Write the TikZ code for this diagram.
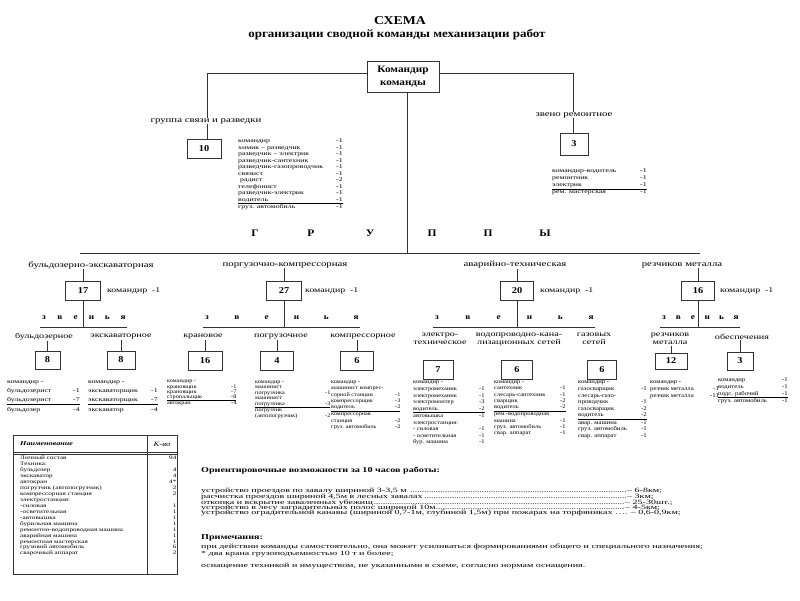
\documentclass[tikz,border=0pt]{standalone}
\usepackage{fontspec}
\setmainfont{Liberation Serif}[FakeStretch=1.15]
\newfontfamily\wfont{Liberation Serif}[FakeStretch=1.35]
\newfontfamily\xfont{Liberation Serif}[FakeStretch=1.55]
\usepackage{array}
\newcommand{\fs}[2]{\fontsize{#1}{#2}\selectfont}
\newcommand{\lstab}[2]{\begin{tabular}{@{}p{#1}@{}r@{}}#2\end{tabular}}
\newcommand{\dfill}{\leaders\hbox to 2.3pt{\hss.\hss}\hfill}
\setlength{\arrayrulewidth}{0.6pt}
\tikzset{
  ln/.style={draw=black!80, line width=0.8pt},
  bx/.style={draw=black!80, line width=1pt, inner sep=0pt, font=\bfseries\fs{9}{9}},
  glab/.style={inner sep=0.5pt, font=\wfont\fs{8}{8}},
  slab/.style={inner sep=0.5pt, font=\wfont\fs{7.5}{8}, align=center},
  lst/.style={inner sep=0pt, anchor=north west},
  kom/.style={inner sep=0pt, anchor=west, font=\wfont\fs{7.3}{7.3}},
  gr/.style={inner sep=0pt, font=\bfseries\fs{10}{10}},
  zl/.style={inner sep=0pt, font=\bfseries\fs{8}{8}},
  txt/.style={inner sep=0pt, anchor=west, font=\xfont\fs{6.45}{6.45}},
}
\begin{document}
\begin{tikzpicture}[x=1pt,y=-1pt]
\useasboundingbox (0,0) rectangle (800,600);
\fill[white] (0,0) rectangle (800,600);
% title
\node[inner sep=0pt, font=\bfseries\fs{12}{12}] (t1) at (400,21) {СХЕМА};
\node[inner sep=0pt, font=\bfseries\fs{11.3}{11.3}] (t2) at (397,35) {организации сводной команды механизации работ};
% commander
\node[bx, minimum width=72pt, minimum height=31pt, align=center, font=\bfseries\fs{9.8}{12.5}] (cmd) at (403,76.5) {Командир\\команды};
\coordinate (jl) at (207,73);
\coordinate (jr) at (573,73);
\coordinate (jc) at (407,253);
\coordinate (hl) at (80,253);
\coordinate (hr) at (700,253);
% group 10
\node[glab] (g10l) at (206,121) {группа связи и разведки};
\node[bx, minimum width=34pt, minimum height=19pt] (b10) at (204,149) {10};
\node[lst, font=\wfont\fs{5.8}{6.5}] (l10) at (238,138) {\lstab{98pt}{командир & -1\\ химик – разведчик & -1\\ разведчик – электрик & -1\\ разведчик-сантехник & -1\\ разведчик-газопроводчик & -1\\ связист & -1\\ \ радист & -2\\ телефонист & -1\\ разведчик-электрик & -1\\ водитель & -1\\ \hline груз. автомобиль & -1}};
\draw[ln] (cmd.west |- jl) -- (jl) -- (g10l.north -| jl);
\draw[ln] (g10l.south -| jl) -- (b10.north -| jl);
% group 3 repair
\node[glab] (g3l) at (574,115) {звено ремонтное};
\node[bx, minimum width=28pt, minimum height=22pt] (b3) at (574,144) {3};
\node[lst, font=\wfont\fs{5.8}{6.8}] (l3) at (552,168) {\lstab{88pt}{командир-водитель & -1\\ ремонтник & -1\\ электрик & -1\\ \hline рем. мастерская & -1}};
\draw[ln] (cmd.east |- jr) -- (jr) -- (g3l.north -| jr);
\draw[ln] (g3l.south -| jr) -- (b3.north -| jr);
% groups
\node[gr] (G1) at (255,233) {Г};
\node[gr] (G2) at (311,233) {Р};
\node[gr] (G3) at (370,233) {У};
\node[gr] (G4) at (432,233) {П};
\node[gr] (G5) at (488,233) {П};
\node[gr] (G6) at (545,233) {Ы};
\draw[ln] (cmd.south -| jc) -- (jc);
\draw[ln] (hl) -- (hr);
% main groups
\node[glab] (gl17) at (91,265) {бульдозерно-экскаваторная};
\node[bx, minimum width=35pt, minimum height=19pt] (b17) at (83,291) {17};
\node[kom] (k17) at (107,291) {командир \ -1};
\node[glab] (gl27) at (285,265) {поргузочно-компрессорная};
\node[bx, minimum width=35pt, minimum height=19pt] (b27) at (284,291) {27};
\node[kom] (k27) at (305,291) {командир \ -1};
\node[glab] (gl20) at (515,265) {аварийно-техническая};
\node[bx, minimum width=33pt, minimum height=19pt] (b20) at (517,291) {20};
\node[kom] (k20) at (540,291) {командир \ -1};
\node[glab] (gl16) at (682,265) {резчиков металла};
\node[bx, minimum width=33pt, minimum height=19pt] (b16) at (698,291) {16};
\node[kom] (k16) at (720,291) {командир \ -1};
\foreach \b/\g in {b17/gl17, b27/gl27, b20/gl20, b16/gl16} \draw[ln] (\b.north) -- (\b.north |- \g.south);
% zvenya lines
\coordinate (z1a) at (40,327);  \coordinate (z1b) at (127,327);
\coordinate (z2a) at (203,327); \coordinate (z2b) at (360,327);
\coordinate (z3a) at (433,327); \coordinate (z3b) at (595,327);
\coordinate (z4a) at (660,327); \coordinate (z4b) at (740,327);
\foreach \n/\a/\s in {1/40/87, 2/203/157, 3/433/162, 4/660/80}{
  \foreach \l [count=\i] in {з,в,е,н,ь,я}
    \node[zl] (zz\n\i) at ({\a+4+(\i-1)*(\s-8)/5},318) {\l};
}
\draw[ln] (z1a) -- (z1b); \draw[ln] (z2a) -- (z2b);
\draw[ln] (z3a) -- (z3b); \draw[ln] (z4a) -- (z4b);
\draw[ln] (b17.south) -- (b17.south |- z1a);
\draw[ln] (b27.south) -- (b27.south |- z2a);
\draw[ln] (b20.south) -- (b20.south |- z3a);
\draw[ln] (b16.south) -- (b16.south |- z4a);
% sub units
\node[slab] (sl1) at (44,337) {бульдозерное};
\node[bx, minimum width=25pt, minimum height=18pt] (b8a) at (47.5,360) {8};
\node[slab] (sl2) at (121,337) {экскаваторное};
\node[bx, minimum width=28pt, minimum height=18pt] (b8b) at (121,360) {8};
\node[slab] (sl3) at (203,337) {крановое};
\node[bx, minimum width=34pt, minimum height=19pt] (b16a) at (205,361) {16};
\node[slab] (sl4) at (281,337) {погрузочное};
\node[bx, minimum width=33pt, minimum height=19pt] (b4) at (277,361) {4};
\node[slab] (sl5) at (363,337) {компрессорное};
\node[bx, minimum width=33pt, minimum height=19pt] (b6a) at (357,361) {6};
\node[slab] (sl6) at (440,339) {электро-\\техническое};
\node[bx, minimum width=30pt, minimum height=19pt] (b7) at (438,370) {7};
\node[slab] (sl7) at (519,339) {водопроводно-кана-\\лизационных сетей};
\node[bx, minimum width=31pt, minimum height=19pt] (b6b) at (517,370) {6};
\node[slab] (sl8) at (594,339) {газовых\\сетей};
\node[bx, minimum width=29pt, minimum height=19pt] (b6c) at (602,370) {6};
\node[slab] (sl9) at (670,339) {резчиков\\металла};
\node[bx, minimum width=32pt, minimum height=16pt] (b12) at (671,361) {12};
\node[slab] (sl10) at (742,337) {обеспечения};
\node[bx, minimum width=26pt, minimum height=18pt] (b3b) at (740,361) {3};
\foreach \b/\g in {b8a/sl1, b8b/sl2, b16a/sl3, b4/sl4, b6a/sl5, b12/sl9, b3b/sl10} \draw[ln] (\b.north) -- (\b.north |- \g.south);
% lists
\node[lst, font=\wfont\fs{5.8}{9}] (lb1) at (7,377) {\lstab{66pt}{командир - & \\ бульдозерист & -1\\ бульдозерист & -7\\ \hline бульдозер & -4}};
\node[lst, font=\wfont\fs{5.8}{9}] (lb2) at (88,377) {\lstab{63pt}{командир - & \\ экскаваторщик & -1\\ экскаваторщик & -7\\ \hline экскаватор & -4}};
\node[lst, font=\fs{5.4}{5.2}] (lb3) at (167,379) {\lstab{64pt}{командир - & \\ крановщик & -1\\ крановщик & -7\\ стропальщик & -8\\ \hline автокран & -4}};
\node[lst, font=\fs{5.4}{5.6}] (lb4) at (255,379) {\lstab{70pt}{командир - & \\ машинист & \\ погрузчика & -1\\ машинист & \\ погрузчика & -3\\ \hline погрузчик & \\ (автопогрузчик) & -2}};
\node[lst, font=\fs{5.4}{6.3}] (lb5) at (331,379) {\lstab{64pt}{командир - & \\ машинист компрес- & \\ сорной станции & -1\\ компрессорщик & -3\\ водитель & -2\\ \hline компрессорная & \\ станция & -2\\ груз. автомобиль & -2}};
\node[lst, font=\fs{5.6}{6.6}] (lb6) at (413,379) {\lstab{66pt}{командир - & \\ электромеханик & -1\\ электромеханик & -1\\ электромонтер & -3\\ водитель & -2\\ \hline автовышка & -1\\ электростанция: & \\ - силовая & -1\\ - осветительная & -1\\ бур. машина & -1}};
\node[lst, font=\fs{5.6}{6.3}] (lb7) at (494,379) {\lstab{66pt}{командир - & \\ сантехник & -1\\ слесарь-сантехник & -1\\ сварщик & -2\\ водитель & -2\\ \hline рем.-водопроводная & \\ машина & -1\\ груз. автомобиль & -1\\ свар. аппарат & -1}};
\node[lst, font=\fs{5.8}{6.6}] (lb8) at (578,379) {\lstab{63pt}{командир - & \\ газосварщик & -1\\ слесарь-газо- & \\ проводчик & -1\\ газосварщик & -2\\ водитель & -2\\ \hline авар. машина & -1\\ груз. автомобиль & -1\\ свар. аппарат & -1}};
\node[lst, font=\fs{5.8}{6.6}] (lb9) at (650,379) {\lstab{60pt}{командир - & \\ резчик металла & -1\\ резчик металла & -11}};
\node[lst, font=\fs{5.8}{7}] (lb10) at (718,376) {\lstab{64pt}{командир & -1\\ водитель & -1\\ подс. рабочий & -1\\ \hline груз. автомобиль & -1}};
% table
\draw[black!80, line width=0.8pt] (13,435) rectangle (177,574);
\draw[black!80, line width=0.6pt] (13,452) -- (177,452) (13,454.5) -- (177,454.5);
\draw[black!80, line width=0.8pt] (147,435) -- (147,574);
\node[inner sep=0pt, anchor=west, font=\wfont\bfseries\itshape\fs{6}{6}] (th1) at (20,444) {Наименование};
\node[inner sep=0pt, font=\wfont\itshape\fs{6.5}{6.5}] (th2) at (162,444) {К-во};
\node[lst, font=\wfont\fs{5.3}{5.94}] (tb) at (20,455.5) {\lstab{149pt}{Личный состав & 94\\ Техника: & \\ бульдозер & 4\\ экскаватор & 4\\ автокран & 4*\\ погрузчик (автопогрузчик) & 2\\ компрессорная станция & 2\\ электростанция: & \\ -силовая & 1\\ -осветительная & 1\\ -автовышка & 1\\ бурильная машина & 1\\ ремонтно-водопроводная машина & 1\\ аварийная машина & 1\\ ремонтная мастерская & 1\\ грузовой автомобиль & 6\\ сварочный аппарат & 2}};
% text block
\node[txt, font=\wfont\bfseries\fs{7.5}{7.5}] (h1) at (201,471) {Ориентировочные возможности за 10 часов работы:};
\node[txt] (p1) at (201,491) {\makebox[426pt][l]{устройство проездов по завалу шириной 3-3,5 м \dfill}– 6-8км;};
\node[txt] (p2) at (201,497) {\makebox[426pt][l]{расчистка проездов шириной 4,5м в лесных завалах\dfill}– 3км;};
\node[txt] (p3) at (201,502.5) {\makebox[424pt][l]{откопка и вскрытие заваленных убежищ\dfill}– 25-30шт.;};
\node[txt] (p4) at (201,507.5) {\makebox[424pt][l]{устройство в лесу заградительных полос шириной 10м\dfill}– 4-5км;};
\node[txt] (p5) at (201,512.5) {устройство оградительной канавы (шириной 0,7-1м, глубиной 1,5м) при пожарах на торфяниках …. – 0,6-0,9км;};
\node[txt, font=\wfont\bfseries\fs{7.5}{7.5}] (h2) at (201,538) {Примечания:};
\node[txt] (n1) at (201,547) {при действии команды самостоятельно, она может усиливаться формированиями общего и специального назначения;};
\node[txt] (n2) at (201,554) {* два крана грузоподъемностью 10 т и более;};
\node[txt] (n3) at (201,566) {оснащение техникой и имуществом, не указанными в схеме, согласно нормам оснащения.};
\end{tikzpicture}
\end{document}
